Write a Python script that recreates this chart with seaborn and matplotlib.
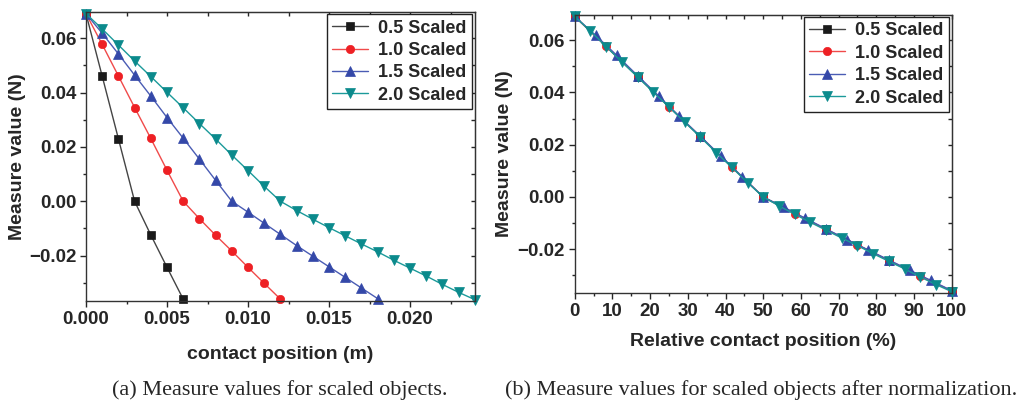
import numpy as np
import pandas as pd
import matplotlib
matplotlib.use("Agg")
import matplotlib.pyplot as plt
from matplotlib.ticker import MultipleLocator, FuncFormatter
import seaborn as sns

# contact positions (m) and measured values (N) for each scale
pos_05 = [0.000, 0.001, 0.002, 0.003, 0.004, 0.005, 0.006]
val_05 = [0.0690, 0.0460, 0.0230, 0.0000, -0.0124, -0.0243, -0.0360]

pos_10 = [0.000, 0.001, 0.002, 0.003, 0.004, 0.005, 0.006, 0.007, 0.008, 0.009,
          0.010, 0.011, 0.012]
val_10 = [0.0690, 0.0577, 0.0461, 0.0345, 0.0231, 0.0114, 0.0000, -0.0064, -0.0125,
          -0.0183, -0.0243, -0.0302, -0.0360]

pos_15 = [0.000, 0.001, 0.002, 0.003, 0.004, 0.005, 0.006, 0.007, 0.008, 0.009,
          0.010, 0.011, 0.012, 0.013, 0.014, 0.015, 0.016, 0.017, 0.018]
val_15 = [0.0690, 0.0618, 0.0542, 0.0464, 0.0387, 0.0308, 0.0232, 0.0155, 0.0077,
          0.0000, -0.0040, -0.0081, -0.0122, -0.0163, -0.0202, -0.0241, -0.0280,
          -0.0319, -0.0358]

pos_20 = [0.000, 0.001, 0.002, 0.003, 0.004, 0.005, 0.006, 0.007, 0.008, 0.009,
          0.010, 0.011, 0.012, 0.013, 0.014, 0.015, 0.016, 0.017, 0.018, 0.019,
          0.020, 0.021, 0.022, 0.023, 0.024]
val_20 = [0.0690, 0.0634, 0.0575, 0.0516, 0.0459, 0.0401, 0.0344, 0.0286, 0.0229,
          0.0170, 0.0113, 0.0055, 0.0000, -0.0034, -0.0066, -0.0097, -0.0127,
          -0.0157, -0.0186, -0.0217, -0.0246, -0.0275, -0.0306, -0.0335, -0.0362]

labels = ["0.5 Scaled", "1.0 Scaled", "1.5 Scaled", "2.0 Scaled"]

sns.set_style("ticks")
plt.rcParams['font.family'] = ['Liberation Sans', 'DejaVu Sans']
plt.rcParams['font.weight'] = 'bold'

series = [
    (pos_05, val_05, "#1a1a1a", "#444444", "s", 5.5),
    (pos_10, val_10, "#ee2024", "#f04a4a", "o", 6.0),
    (pos_15, val_15, "#3448a8", "#4a5cb4", "^", 6.5),
    (pos_20, val_20, "#0b8a8c", "#1b9a9a", "v", 6.5),
]

FS = 13.5

fig = plt.figure(figsize=(10.19, 4.03), dpi=100)
ax1 = fig.add_axes([0.0844, 0.253, 0.3816, 0.717])
ax2 = fig.add_axes([0.564, 0.273, 0.370, 0.690])


def draw(ax, normalize):
    for (pos, val, mcol, lcol, mk, ms), lab in zip(series, labels):
        x = np.array(pos)
        if normalize:
            x = x / x.max() * 100
        df = pd.DataFrame({"x": x, "y": val})
        sns.lineplot(data=df, x="x", y="y", ax=ax, color=lcol, linewidth=1.0,
                     marker=mk, markersize=ms, markerfacecolor=mcol,
                     markeredgecolor=mcol, markeredgewidth=0.5,
                     estimator=None, sort=False, label=lab, clip_on=False)


def fmt(spec):
    return FuncFormatter(lambda v, p: format(v, spec).replace('-', '\u2212'))


def style(ax, xmaj, xmin, xspec, xlim):
    ax.set_xlim(*xlim)
    ax.set_ylim(-0.0367, 0.0696)
    ax.xaxis.set_major_locator(MultipleLocator(xmaj))
    ax.xaxis.set_minor_locator(MultipleLocator(xmin))
    ax.xaxis.set_major_formatter(fmt(xspec))
    ax.yaxis.set_major_locator(MultipleLocator(0.02))
    ax.yaxis.set_minor_locator(MultipleLocator(0.01))
    ax.yaxis.set_major_formatter(fmt('.2f'))
    ax.tick_params(which='major', direction='out', length=4, width=1, labelsize=FS, pad=3)
    ax.tick_params(which='minor', direction='out', length=2.5, width=1)
    for sp in ax.spines.values():
        sp.set_visible(True)
        sp.set_linewidth(1.0)
        sp.set_color('#333333')
    top = ax.secondary_xaxis('top')
    top.xaxis.set_major_locator(MultipleLocator(xmaj))
    top.xaxis.set_minor_locator(MultipleLocator(xmin))
    top.tick_params(which='both', direction='in', length=3, width=1, labeltop=False)
    right = ax.secondary_yaxis('right')
    right.yaxis.set_major_locator(MultipleLocator(0.02))
    right.yaxis.set_minor_locator(MultipleLocator(0.01))
    right.tick_params(which='both', direction='in', length=3, width=1, labelright=False)
    ax.set_ylabel("Measure value (N)", fontsize=14, fontweight='bold')
    leg = ax.legend(loc='upper right', bbox_to_anchor=(0.993, 0.993), borderaxespad=0,
                    fancybox=False, edgecolor='#222222', framealpha=1,
                    handlelength=2.0, handletextpad=0.55, labelspacing=0.3,
                    borderpad=0.3, prop={'weight': 'bold', 'size': 13})
    leg.get_frame().set_linewidth(1.0)


draw(ax1, False)
draw(ax2, True)
style(ax1, 0.005, 0.0025, '.3f', (0, 0.024))
style(ax2, 10, 5, '.0f', (0, 100))

ax1.set_xlabel("contact position (m)", fontsize=14, fontweight='bold')
ax1.xaxis.set_label_coords(0.5, -0.155)
ax2.set_xlabel("Relative contact position (%)", fontsize=14, fontweight='bold')
ax2.xaxis.set_label_coords(0.5, -0.145)
ax1.yaxis.set_label_coords(-0.154, 0.5)
ax2.yaxis.set_label_coords(-0.164, 0.5)

fig.text(0.275, 0.032, "(a) Measure values for scaled objects.", ha='center', va='center',
         fontsize=16, family='Liberation Serif', fontweight='normal')
fig.text(0.747, 0.032, "(b) Measure values for scaled objects after normalization.",
         ha='center', va='center', fontsize=16, family='Liberation Serif',
         fontweight='normal')

fig.savefig("out.png", dpi=100)
